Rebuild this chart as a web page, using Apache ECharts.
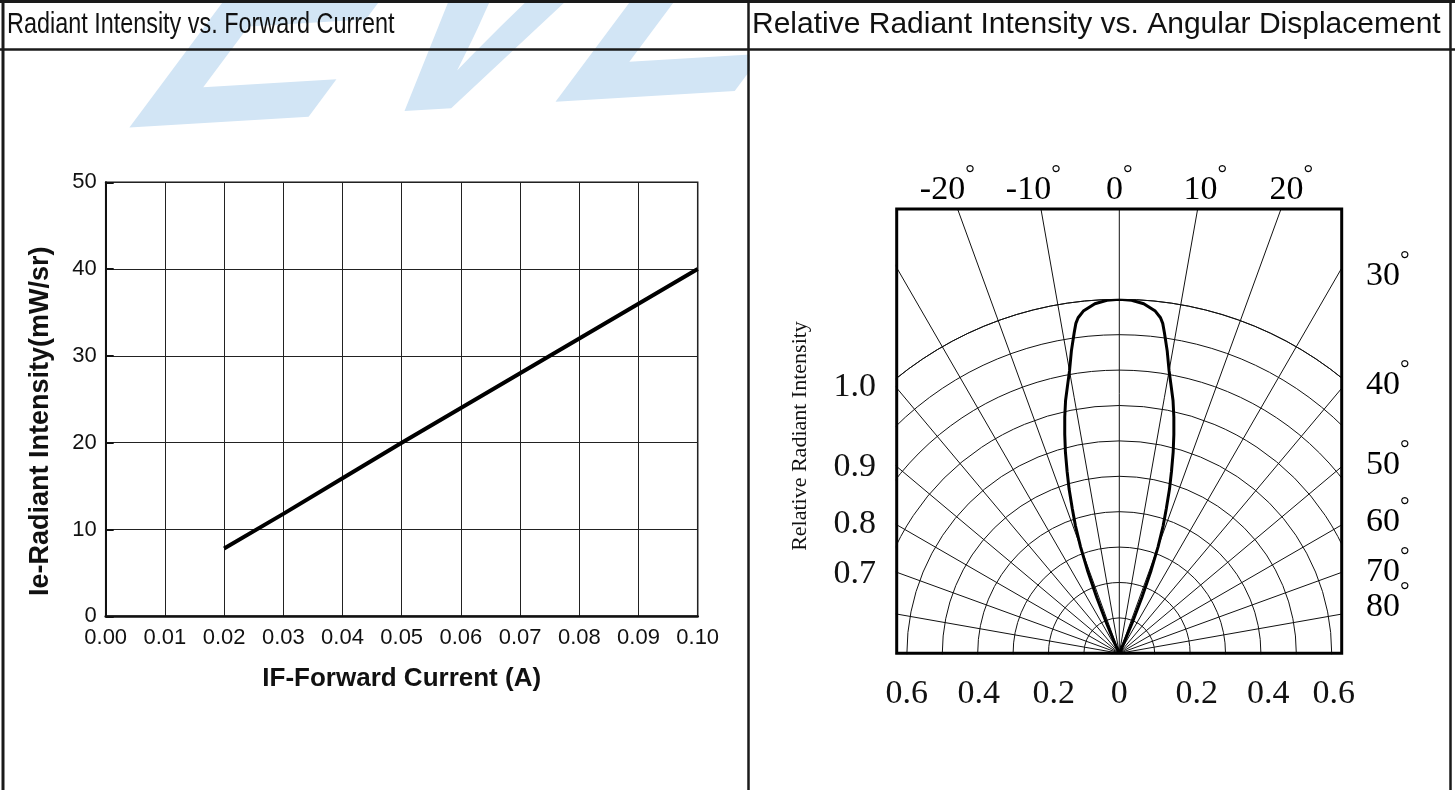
<!DOCTYPE html>
<html><head><meta charset="utf-8">
<script src="https://cdn.jsdelivr.net/npm/echarts@6/dist/echarts.min.js"></script>
<style>
html,body{margin:0;padding:0;background:#fff;overflow:hidden;}
#main{position:absolute;left:0;top:0;width:1455px;height:790px;}
#polar{position:absolute;left:750px;top:51px;width:698px;height:739px;}
</style></head><body>
<div id="main"></div><div id="polar"></div>
<script>
// ---------- data: left chart ----------
const currentA    = [0.02, 0.03, 0.04, 0.05, 0.06, 0.07, 0.08, 0.09, 0.10];
const intensityMW = [7.8, 11.8, 15.9, 20.0, 24.0, 28.0, 32.0, 36.0, 40.0];
const xTickLabels = ['0.00','0.01','0.02','0.03','0.04','0.05','0.06','0.07','0.08','0.09','0.10'];
const yTickLabels = ['0','10','20','30','40','50'];
const headers = ['Radiant Intensity vs. Forward Current', 'Relative Radiant Intensity vs. Angular Displacement'];
const leftAxisNames = ['IF-Forward Current (A)', 'Ie-Radiant Intensity(mW/sr)'];

// ---------- data: radiation pattern ----------
const lobeAngle = [-25,-24,-23,-22,-21,-20,-19,-18,-17,-16,-15,-14,-13,-12,-11,-10,-9,-8,-7.5,-7,-6,-4,-2,
                    0, 2, 4, 6, 7, 7.5, 8, 9, 10, 11, 12, 13, 14, 15, 16, 17, 18, 19, 20, 21, 22, 23, 24, 25];
const lobeRel   = [0, 0.03, 0.09, 0.17, 0.25, 0.32, 0.38, 0.43, 0.485, 0.535, 0.588, 0.637, 0.685, 0.73, 0.768, 0.81, 0.865, 0.915, 0.94, 0.955, 0.972, 0.99, 0.998,
                   1.0, 0.998, 0.99, 0.972, 0.955, 0.94, 0.915, 0.865, 0.81, 0.768, 0.73, 0.685, 0.637, 0.588, 0.535, 0.485, 0.43, 0.38, 0.32, 0.25, 0.17, 0.09, 0.03, 0];
const topAngleLabels  = ['-20', '-10', '0', '10', '20'];
const sideAngleLabels = ['30', '40', '50', '60', '70', '80'];
const intensityLabels = ['1.0', '0.9', '0.8', '0.7'];
const radialLabels    = ['0.6', '0.4', '0.2', '0', '0.2', '0.4', '0.6'];
const polarTitle = 'Relative Radiant Intensity';
const watermark = 'EVE';

// ---------- layout (page pixels) ----------
const sideLabelCenterY   = [276, 385, 465, 522, 572, 607];
const radialLabelOffsetX = [-212.5, -140.5, -65.5, 0, 77.5, 149, 214.5];

// ---------- main instance: table, headers, left chart ----------
const SANS = 'Liberation Sans, Arial, sans-serif';
const SERIF = 'Liberation Serif, Times New Roman, serif';
const main = echarts.init(document.getElementById('main'));
main.setOption({
  animation: false,
  backgroundColor: '#fff',
  graphic: [
    { type: 'text', x: 52, y: 204, rotation: 0.06, skewX: -0.7, z: -1, silent: true,
      style: { text: watermark, fontFamily: SANS, fontWeight: 'bold', fontSize: 320, fill: '#d2e5f5',
               verticalAlign: 'bottom', align: 'left' } },
    { type: 'text', x: 7, y: 25, scaleX: 0.78, z: 10,
      style: { text: headers[0], fontFamily: SANS, fontSize: 30, fill: '#111', verticalAlign: 'middle' } },
    { type: 'text', x: 752, y: 25, z: 10,
      style: { text: headers[1], fontFamily: SANS, fontSize: 30, fill: '#111', verticalAlign: 'middle' } },
    // table borders
    { type: 'line', z: 20, shape: { x1: 0, y1: 1.5, x2: 1455, y2: 1.5 }, style: { stroke: '#1a1a1a', lineWidth: 3 } },
    { type: 'line', z: 20, shape: { x1: 0, y1: 49.5, x2: 1455, y2: 49.5 }, style: { stroke: '#1a1a1a', lineWidth: 2.5 } },
    { type: 'line', z: 20, shape: { x1: 3, y1: 0, x2: 3, y2: 790 }, style: { stroke: '#1a1a1a', lineWidth: 3 } },
    { type: 'line', z: 20, shape: { x1: 748.5, y1: 0, x2: 748.5, y2: 790 }, style: { stroke: '#1a1a1a', lineWidth: 2.5 } },
    { type: 'line', z: 20, shape: { x1: 1450.5, y1: 0, x2: 1450.5, y2: 790 }, style: { stroke: '#1a1a1a', lineWidth: 2.5 } }
  ],
  grid: { left: 105.7, top: 182.3, width: 592, height: 434, show: true, borderColor: '#111', borderWidth: 1.5 },
  xAxis: {
    type: 'value', min: 0, max: 0.1, interval: 0.01,
    name: leftAxisNames[0], nameLocation: 'middle', nameGap: 50,
    nameTextStyle: { fontFamily: SANS, fontWeight: 'bold', fontSize: 26, color: '#111' },
    axisLine: { show: true, onZero: false, lineStyle: { color: '#111', width: 2.5 } },
    axisTick: { show: false },
    axisLabel: { fontFamily: SANS, fontSize: 22, color: '#111', margin: 11,
                 formatter: v => xTickLabels[Math.round(v * 100)] },
    splitLine: { show: true, lineStyle: { color: '#222', width: 1 } }
  },
  yAxis: {
    type: 'value', min: 0, max: 50, interval: 10,
    name: leftAxisNames[1], nameLocation: 'middle', nameGap: 52,
    nameTextStyle: { fontFamily: SANS, fontWeight: 'bold', fontSize: 27, color: '#111', padding: [0, 44, 0, 0] },
    axisLine: { show: true, lineStyle: { color: '#111', width: 2 } },
    axisTick: { show: true, inside: true, length: 8, lineStyle: { color: '#111', width: 2 } },
    axisLabel: { fontFamily: SANS, fontSize: 22, color: '#111', margin: 9,
                 formatter: v => yTickLabels[Math.round(v / 10)] },
    splitLine: { show: true, lineStyle: { color: '#222', width: 1 } }
  },
  series: [{
    type: 'line', data: currentA.map((x, i) => [x, intensityMW[i]]),
    symbol: 'none', lineStyle: { color: '#000', width: 4 }, z: 5
  }]
});

// ---------- polar instance ----------
const OX = 750, OY = 51;                 // offset of the polar div on the page
const CX = 1119.3 - OX, CY = 653.3 - OY; // pole
const R1 = 354;                           // radius of relative intensity 1.0
const BX = 896.7 - OX, BY = 209 - OY, BW = 445, BH = 444.3; // square frame
const polar = echarts.init(document.getElementById('polar'));

const degRich = {
  n: { fontFamily: SERIF, fontSize: 34, color: '#111', padding: [10, 0, 0, 0] },
  d: { fontFamily: SERIF, fontSize: 24, color: '#111', verticalAlign: 'top' }
};
const g = [];
// masks that clip the polar grid to the square frame
g.push({ type: 'rect', z: 100, silent: true, shape: { x: 0, y: 0, width: 698, height: BY - 1 }, style: { fill: '#fff' } });
g.push({ type: 'rect', z: 100, silent: true, shape: { x: 0, y: BY + BH + 1, width: 698, height: 400 }, style: { fill: '#fff' } });
g.push({ type: 'rect', z: 100, silent: true, shape: { x: 0, y: 0, width: BX - 1, height: 739 }, style: { fill: '#fff' } });
g.push({ type: 'rect', z: 100, silent: true, shape: { x: BX + BW + 1, y: 0, width: 400, height: 739 }, style: { fill: '#fff' } });
g.push({ type: 'rect', z: 101, silent: true, shape: { x: BX, y: BY, width: BW, height: BH },
         style: { fill: 'none', stroke: '#000', lineWidth: 3 } });
// top angle labels
topAngleLabels.forEach((t, i) => {
  g.push({ type: 'text', z: 102, x: CX + (i - 2) * 86, y: BY - 2,
    style: { text: '{n|' + t + '}{d|°}', rich: degRich, align: 'center', verticalAlign: 'bottom' } });
});
// side angle labels
sideAngleLabels.forEach((t, i) => {
  g.push({ type: 'text', z: 102, x: 1366 - OX, y: sideLabelCenterY[i] - OY - 5,
    style: { text: '{n|' + t + '}{d|°}', rich: degRich, align: 'left', verticalAlign: 'middle' } });
});
// intensity labels on the left (rows of 40..70 degrees)
intensityLabels.forEach((t, i) => {
  g.push({ type: 'text', z: 102, x: 876 - OX, y: sideLabelCenterY[i + 1] - OY + 2,
    style: { text: t, fontFamily: SERIF, fontSize: 34, fill: '#111', align: 'right', verticalAlign: 'middle' } });
});
// radial scale labels below the frame
radialLabels.forEach((t, i) => {
  g.push({ type: 'text', z: 102, x: CX + radialLabelOffsetX[i], y: 694 - OY,
    style: { text: t, fontFamily: SERIF, fontSize: 34, fill: '#111', align: 'center', verticalAlign: 'middle' } });
});
g.push({ type: 'text', z: 102, x: 800 - OX, y: 436 - OY, rotation: Math.PI / 2,
  style: { text: polarTitle, fontFamily: SERIF, fontSize: 22, fill: '#111', align: 'center', verticalAlign: 'middle' } });

polar.setOption({
  animation: false,
  graphic: g,
  polar: [
    { center: [CX, CY], radius: R1 },
    { center: [CX, CY], radius: 520 }
  ],
  angleAxis: [
    { polarIndex: 0, type: 'value', min: -180, max: 180, interval: 10, startAngle: 270, clockwise: true,
      axisLine: { show: true, lineStyle: { color: '#111', width: 1 } }, axisTick: { show: false },
      axisLabel: { show: false }, splitLine: { show: false } },
    { polarIndex: 1, type: 'value', min: -180, max: 180, interval: 10, startAngle: 270, clockwise: true,
      axisLine: { show: false }, axisTick: { show: false }, axisLabel: { show: false },
      splitLine: { show: true, lineStyle: { color: '#111', width: 1 } } }
  ],
  radiusAxis: [
    { polarIndex: 0, type: 'value', min: 0, max: 1, interval: 0.1,
      axisLine: { show: false }, axisTick: { show: false }, axisLabel: { show: false },
      splitLine: { show: true, lineStyle: { color: '#111', width: 1 } } },
    { polarIndex: 1, type: 'value', min: 0, max: 1,
      axisLine: { show: false }, axisTick: { show: false }, axisLabel: { show: false }, splitLine: { show: false } }
  ],
  series: [{
    type: 'line', coordinateSystem: 'polar', polarIndex: 0, z: 10,
    data: lobeAngle.map((a, i) => [lobeRel[i], a]),
    symbol: 'none', lineStyle: { color: '#000', width: 3 }
  }]
});
</script>
</body></html>
